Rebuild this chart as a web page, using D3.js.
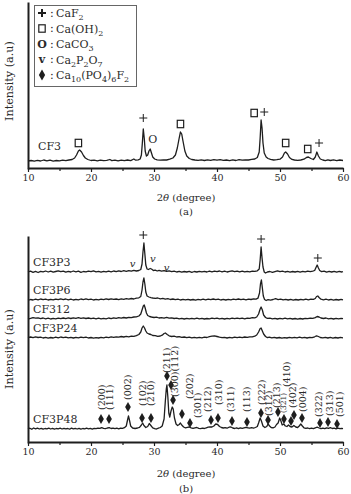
<!DOCTYPE html>
<html><head><meta charset="utf-8">
<script src="https://cdn.jsdelivr.net/npm/d3@7"></script>
<style>
body{margin:0;background:#fff}
svg{display:block}
text{font-family:"DejaVu Serif","Liberation Serif",serif;fill:#2a2a2a}
</style>
</head><body><svg id="c" width="351" height="494"></svg>
<script>
// ---------- DATA ----------
const xMajor = [10,20,30,40,50,60];
const xMinor = [15,25,35,45,55];

// Panel (a): CF3 pattern [2theta, intensity]
const cf3 = [[10,7],[10.5,7.5],[11,6.8],[11.5,7.6],[12,7],[12.5,8],[13,7.2],[13.5,7.8],[14,6.9],[14.5,7.5],[15,7.1],[15.5,7.8],[16,7.3],[16.5,8],[17,8.5],[17.4,10],[17.7,13],[18,17],[18.2,18],[18.5,16],[18.8,12.5],[19.1,10],[19.5,8.5],[20,7.5],[20.5,7.8],[21,7.2],[21.5,7.8],[22,7.3],[22.5,7.6],[23,8.5],[23.3,7.4],[23.8,7.8],[24.3,7.2],[24.8,7.9],[25.3,7.3],[25.8,8],[26.3,7.4],[26.8,9],[27.1,7.8],[27.5,8.2],[27.8,9],[28,13],[28.15,25],[28.3,39],[28.45,30],[28.6,17],[28.8,12],[29.0,13],[29.2,17],[29.4,19],[29.6,15],[29.8,11],[30.1,9],[30.5,8.2],[31,7.8],[31.5,8.2],[32,8],[32.5,8.8],[33,10],[33.4,13],[33.7,20],[34,30],[34.2,36],[34.4,34],[34.6,27],[34.9,17],[35.2,12],[35.6,9.5],[36,8.5],[36.5,8],[37,7.6],[37.5,8.1],[38,7.5],[38.5,8.2],[39,7.6],[39.5,8.4],[40,7.8],[40.5,8.3],[41,7.6],[41.5,8],[42,7.4],[42.5,8.1],[43,7.5],[43.5,8.4],[44,7.8],[44.5,8.2],[45,8],[45.5,8.6],[46,9],[46.4,10.5],[46.7,16],[46.85,30],[47,48],[47.15,40],[47.3,25],[47.5,15],[47.8,11],[48.1,9.5],[48.5,8.6],[49,8],[49.5,8.3],[50,8.8],[50.4,11],[50.7,15],[50.9,16],[51.2,14],[51.5,10.5],[51.9,8.6],[52.3,8],[52.8,7.6],[53.3,8],[53.8,8.8],[54.2,10.5],[54.5,11],[54.9,9.5],[55.3,8.5],[55.6,11],[55.85,16],[56.1,12],[56.4,9],[56.8,8],[57.2,7.4],[57.6,8.2],[58,7.5],[58.5,8.1],[59,7.4],[59.5,8],[60,7.5]];

// Panel (b): stacked patterns, relative intensity
const cf3p3 = [[10,0],[10.4,0.8],[10.8,-0.3],[11.2,0.6],[11.6,-0.5],[12,0.7],[12.4,0.2],[12.8,1],[13.2,0],[13.6,0.8],[14,-0.2],[14.4,0.5],[14.8,1.2],[15.2,0.3],[15.6,0.9],[16,-0.2],[16.4,0.6],[16.8,0],[17.2,1],[17.6,0.2],[18,0.8],[18.4,-0.3],[18.8,0.5],[19.2,0.1],[19.6,0.9],[20,0.3],[20.4,1.1],[20.8,0.2],[21.2,0.7],[21.6,-0.2],[22,0.6],[22.4,0.1],[22.8,0.9],[23.2,0.2],[23.6,1],[24,0.4],[24.4,1.2],[24.8,0.5],[25.2,1.3],[25.6,0.6],[26,1.4],[26.4,0.8],[26.8,1.6],[27.2,1],[27.6,1.5],[27.9,2.5],[28.1,8],[28.25,20],[28.4,29],[28.55,18],[28.7,7],[28.9,3],[29.1,2.5],[29.4,3.5],[29.6,3],[29.9,1.5],[30.2,1.8],[30.5,1],[30.8,1.6],[31.2,0.8],[31.6,1.4],[32,0.6],[32.4,1.2],[32.8,0.3],[33.2,0.8],[33.6,0],[34,0.7],[34.4,-0.2],[34.8,0.5],[35.2,0],[35.6,0.6],[36,-0.3],[36.4,0.5],[36.8,0],[37.2,0.7],[37.6,0.1],[38,0.6],[38.4,0],[38.8,0.8],[39.2,0.2],[39.6,0.9],[40,0.3],[40.4,1],[40.8,0.2],[41.2,0.8],[41.6,0],[42,0.6],[42.4,1.2],[42.8,0.4],[43.2,0.9],[43.6,0.2],[44,0.8],[44.4,0.1],[44.8,0.7],[45.2,0.2],[45.6,0.9],[46,0.6],[46.4,1.2],[46.7,3],[46.85,12],[47,25],[47.15,14],[47.3,5],[47.5,0],[47.7,-1],[48,0],[48.4,0.5],[48.8,-0.4],[49.2,0.4],[49.6,1.2],[50,0.3],[50.4,0.8],[50.8,0],[51.2,0.6],[51.6,-0.2],[52,0.5],[52.4,0],[52.8,0.7],[53.2,-0.1],[53.6,0.6],[54,0.1],[54.4,0.8],[54.8,0.3],[55.2,0.9],[55.5,1.5],[55.75,5],[55.9,7],[56.1,4],[56.3,1.5],[56.6,0.4],[57,0.9],[57.4,-0.2],[57.8,0.6],[58.2,0],[58.6,0.7],[59,-0.1],[59.4,0.6],[59.8,0],[60,0.4]];

const cf3p6 = [[10,-0.3],[10.4,0.5],[10.8,0],[11.2,0.8],[11.6,0.2],[12,1],[12.4,0.3],[12.8,0.9],[13.2,0],[13.6,0.6],[14,0.1],[14.4,0.9],[14.8,0.3],[15.2,1.1],[15.6,0.4],[16,1],[16.4,0.2],[16.8,0.8],[17.2,0],[17.6,0.7],[18,0.1],[18.4,1],[18.8,0.4],[19.2,1.1],[19.6,0.3],[20,0.8],[20.4,0],[20.8,0.6],[21.2,0.2],[21.6,0.9],[22,0.3],[22.4,1.1],[22.8,0.5],[23.2,1.2],[23.6,0.6],[24,1],[24.4,0.4],[24.8,1.1],[25.2,0.6],[25.6,1.3],[26,0.8],[26.4,1.5],[26.8,1],[27.2,1.8],[27.6,2.2],[27.9,3.5],[28.1,10],[28.25,18],[28.4,22],[28.55,16],[28.7,8],[28.9,4],[29.2,3],[29.5,2.4],[29.8,2],[30.2,1.6],[30.6,2],[31,1.2],[31.4,1.6],[31.8,0.8],[32.2,1.3],[32.6,0.5],[33,1],[33.4,0.3],[33.8,0.8],[34.2,0],[34.6,0.6],[35,0.1],[35.4,0.7],[35.8,0],[36.2,0.5],[36.6,-0.2],[37,0.6],[37.4,0.1],[37.8,0.8],[38.2,0.2],[38.6,0.9],[39,0.3],[39.4,1],[39.8,0.4],[40.2,0.8],[40.6,0],[41,0.6],[41.4,0],[41.8,0.7],[42.2,0.2],[42.6,0.9],[43,0.4],[43.4,1],[43.8,0.3],[44.2,0.8],[44.6,0.2],[45,0.9],[45.4,0.5],[45.8,1.2],[46.2,0.9],[46.5,1.8],[46.75,7],[46.9,16],[47.05,20],[47.2,12],[47.35,4],[47.55,0.5],[47.8,-0.5],[48.1,0.3],[48.5,-0.2],[48.9,0.5],[49.3,1.3],[49.7,0.4],[50.1,0.9],[50.5,0.1],[50.9,0.7],[51.3,0],[51.7,0.6],[52.1,-0.1],[52.5,0.5],[52.9,0],[53.3,0.7],[53.7,0.1],[54.1,0.8],[54.5,0.2],[54.9,0.9],[55.3,0.6],[55.6,1.5],[55.8,3.5],[56,4],[56.2,2.5],[56.5,0.8],[56.9,0.2],[57.3,0.8],[57.7,0],[58.1,0.6],[58.5,-0.1],[58.9,0.5],[59.3,0],[59.7,0.6],[60,0.2]];

const cf312 = [[10,0],[10.4,0.6],[10.8,1.4],[11.2,0.8],[11.6,1.2],[12,0.4],[12.4,1],[12.8,0.2],[13.2,0.8],[13.6,0],[14,0.6],[14.4,0.1],[14.8,0.9],[15.2,0.3],[15.6,1],[16,0.4],[16.4,1.1],[16.8,0.5],[17.2,1.2],[17.6,0.6],[18,1.3],[18.4,0.7],[18.8,1.2],[19.2,0.5],[19.6,1],[20,0.3],[20.4,0.9],[20.8,0.2],[21.2,0.8],[21.6,0.1],[22,0.7],[22.4,0.2],[22.8,1],[23.2,0.4],[23.6,1.2],[24,0.6],[24.4,1.3],[24.8,0.8],[25.2,1.5],[25.6,1],[26,1.7],[26.4,1.3],[26.8,2],[27.2,2.2],[27.6,3],[27.9,5],[28.1,9],[28.3,13],[28.45,14],[28.6,11],[28.8,6],[29,3.5],[29.3,2.5],[29.6,2],[30,1.5],[30.4,1.8],[30.8,1],[31.2,1.4],[31.6,0.8],[32,1.6],[32.4,0.8],[32.8,1.2],[33.2,0.5],[33.6,0.9],[34,0.2],[34.4,0.7],[34.8,0],[35.2,0.6],[35.6,0.1],[36,0.7],[36.4,0.2],[36.8,0.8],[37.2,0.1],[37.6,0.6],[38,0],[38.4,0.5],[38.8,0.1],[39.2,0.8],[39.6,0.3],[40,0.9],[40.4,0.2],[40.8,0.7],[41.2,0],[41.6,0.6],[42,0.1],[42.4,0.8],[42.8,0.3],[43.2,0.9],[43.6,0.3],[44,0.8],[44.4,0.2],[44.8,0.9],[45.2,0.6],[45.6,1.3],[46,1.2],[46.3,2],[46.6,5],[46.85,10],[47,12],[47.2,9],[47.4,4],[47.7,1.5],[48,0.6],[48.4,0.9],[48.8,0.2],[49.2,0.7],[49.6,0],[50,0.6],[50.4,0.1],[50.8,0.8],[51.2,0.2],[51.6,0.7],[52,0],[52.4,0.5],[52.8,-0.1],[53.2,0.5],[53.6,0],[54,0.7],[54.4,0.3],[54.8,0.9],[55.2,0.6],[55.6,1.4],[55.9,2.5],[56.2,2],[56.5,1],[56.9,0.5],[57.3,1],[57.7,0.2],[58.1,0.7],[58.5,0],[58.9,0.6],[59.3,0.1],[59.7,0.7],[60,0.3]];

const cf3p24 = [[10,0.3],[10.4,1],[10.8,0.4],[11.2,1.2],[11.6,0.5],[12,0.9],[12.4,0],[12.8,0.6],[13.2,-0.2],[13.6,0.5],[14,0],[14.4,0.8],[14.8,0.2],[15.2,1],[15.6,0.4],[16,0.9],[16.4,0.1],[16.8,0.6],[17.2,0],[17.6,0.7],[18,0.2],[18.4,0.9],[18.8,0.3],[19.2,0.8],[19.6,0],[20,0.5],[20.4,-0.2],[20.8,0.4],[21.2,0],[21.6,0.7],[22,0.2],[22.4,0.9],[22.8,0.4],[23.2,1.1],[23.6,0.6],[24,1.2],[24.4,0.8],[24.8,1.5],[25.2,1],[25.6,1.6],[26,1.2],[26.4,1.9],[26.8,1.6],[27.2,2.4],[27.6,3.5],[27.9,6],[28.1,10],[28.3,12],[28.5,10],[28.7,7],[28.9,5],[29.2,4],[29.5,3.5],[29.8,2.5],[30.2,2.4],[30.6,1.6],[31,2],[31.3,2.8],[31.6,4.5],[31.8,5],[32.1,3.5],[32.4,2.2],[32.8,1.5],[33.2,1.8],[33.6,1],[34,1.4],[34.4,0.6],[34.8,1],[35.2,0.3],[35.6,0.8],[36,0.2],[36.4,0.7],[36.8,0.1],[37.2,0.6],[37.6,0.2],[38,0.8],[38.4,0.5],[38.8,1.3],[39.2,1.8],[39.6,2.2],[40,1.5],[40.4,0.8],[40.8,0.3],[41.2,0.7],[41.6,0],[42,0.6],[42.4,0.1],[42.8,0.8],[43.2,0.3],[43.6,0.9],[44,0.4],[44.4,1],[44.8,0.6],[45.2,1.2],[45.6,1.1],[46,1.8],[46.3,3],[46.6,6],[46.85,9.5],[47,10],[47.2,7],[47.4,4],[47.7,1.5],[48,0.4],[48.3,0.9],[48.7,0.1],[49.1,0.7],[49.5,0],[49.9,0.5],[50.3,-0.2],[50.7,0.4],[51.1,0],[51.5,0.6],[51.9,0.1],[52.3,0.7],[52.7,0.2],[53.1,0.8],[53.5,0.2],[53.9,0.7],[54.3,0],[54.7,0.6],[55.1,0.3],[55.5,1.2],[55.8,2.2],[56.1,1.5],[56.4,0.5],[56.8,0.1],[57.2,0.7],[57.6,0],[58,0.6],[58.4,-0.1],[58.8,0.5],[59.2,0],[59.6,0.6],[60,0.2]];

const cf3p48 = [[10,0],[10.3,0.8],[10.6,-0.3],[10.9,1],[11.2,0.2],[11.5,0.9],[11.8,0],[12.1,0.7],[12.4,-0.2],[12.7,0.5],[13,0.1],[13.3,0.8],[13.6,0],[13.9,0.6],[14.2,-0.1],[14.5,0.5],[14.8,0.2],[15.1,0.8],[15.4,0],[15.7,0.7],[16,0.2],[16.3,0.5],[16.6,-0.2],[16.9,0.9],[17.2,0.1],[17.5,0.6],[17.8,0],[18.1,0.7],[18.4,-0.1],[18.7,0.5],[19,0.1],[19.3,0.8],[19.6,0.2],[19.9,0.6],[20.2,-0.1],[20.5,0.7],[20.8,0.3],[21.1,0.9],[21.4,0.6],[21.7,1.4],[22,0.7],[22.3,0.4],[22.6,1],[22.9,1.3],[23.2,0.5],[23.5,0.9],[23.8,0.3],[24.1,0.8],[24.4,0.2],[24.7,0.9],[25,0.6],[25.3,1.3],[25.6,3],[25.8,9],[25.95,13],[26.1,9],[26.3,3],[26.6,1],[27,0.5],[27.4,1],[27.7,1.6],[28,4],[28.2,6],[28.4,3.5],[28.7,1.5],[29,2.5],[29.25,5.5],[29.5,3.5],[29.8,1.2],[30.1,0.3],[30.4,0],[30.7,0.8],[31,1.5],[31.3,3],[31.6,10],[31.8,28],[31.95,40],[32.05,44],[32.2,32],[32.35,16],[32.5,12],[32.7,18],[32.9,22],[33.05,20],[33.25,11],[33.5,5],[33.75,3.5],[34,4.5],[34.2,6],[34.4,4],[34.7,2],[35,1.2],[35.3,1.6],[35.6,2],[35.9,1.2],[36.2,0.6],[36.5,1.2],[36.8,1.5],[37.1,0.6],[37.4,0.3],[37.7,0.9],[38,0.5],[38.3,1.2],[38.6,1.8],[38.9,2.2],[39.2,2],[39.5,3],[39.8,5],[40.1,4.5],[40.4,2.5],[40.7,1.5],[41,1],[41.3,1.3],[41.6,0.8],[41.9,1.8],[42.2,2],[42.5,1],[42.8,0.5],[43.1,1.1],[43.4,0.4],[43.7,1.2],[44,0.6],[44.3,1.1],[44.6,1.6],[44.9,1.2],[45.2,0.8],[45.5,1.3],[45.8,0.9],[46.1,1.5],[46.4,2.5],[46.6,6],[46.85,11],[47.05,8],[47.3,3],[47.6,1.5],[47.9,2.5],[48.1,5],[48.35,3],[48.6,1.5],[48.9,1.2],[49.2,2],[49.45,4.5],[49.7,6],[49.95,11],[50.15,8],[50.35,4],[50.6,5],[50.85,3],[51.1,2.5],[51.35,4],[51.6,2.5],[51.9,2],[52.2,3.5],[52.5,2],[52.8,1.5],[53.05,3],[53.3,5],[53.55,3],[53.8,1.2],[54.1,0.6],[54.4,1],[54.7,0.3],[55,0.8],[55.3,0.4],[55.6,1.2],[55.9,1.8],[56.2,1],[56.5,0.4],[56.8,0.9],[57.1,0.3],[57.4,1.2],[57.7,0.6],[58,1.3],[58.3,0.5],[58.6,0.9],[58.9,0.2],[59.2,0.8],[59.5,0.3],[59.8,0.7],[60,0.4]];

const bNames = ["CF3P3","CF3P6","CF312","CF3P24","CF3P48"];
const bSeries = [cf3p3, cf3p6, cf312, cf3p24, cf3p48];
const bOffsets = [170, 142, 123, 104, 13];

// Phase markers
const aMarkType  = ["sq","plus","O","sq","sq","plus","sq","sq","plus"];
const aMarkTheta = [18.0,28.3,29.8,34.2,45.9,47.5,50.9,54.4,56.2];
const aMarkI     = [25,50,29,44,55,56,25,19,25];

const bMarkType  = ["v","plus","v","v","plus","plus"];
const bMarkTheta = [26.6,28.3,29.8,32.0,47.0,56.0];
const bMarkI     = [179,207,184,175,203,184];

// Ca10(PO4)6F2 reflections
const dotTheta = [21.59,22.86,25.87,28.10,29.52,32.06,32.70,33.02,34.44,35.71,39.05,40.16,42.38,44.76,46.98,48.10,49.68,50.63,51.75,52.22,53.49,56.35,57.62,59.05];
const dotI     = [23,23,35,24,24,66,57,42,28,19,22,24,21,20,29,22,30,23,21,27,24,19,20,18];
const hklLabels = ["(200)","(111)","(002)","(102)","(210)","(211)","(300)(112)","(202)","(301)","(212)","(310)","(311)","(113)","(222)","(312)","(213)","(321)","(410)","(402)","(004)","(322)","(313)","(501)"];
const hklTheta  = [21.59,22.86,25.87,28.1,29.52,32.06,33.3,35.56,36.98,38.57,40.16,42.2,44.76,47.14,48.1,49.37,50.48,51.11,52.06,53.65,56.19,57.78,59.37];
const hklI      = [32,32,42,36,36,69,45,43,24,30,37,30,30,37,26,34,29,55,34,30,25,26,25];

const legendSymbols = ["plus","sq","O","v","dia"];
const legendLabels = [
  [["CaF",0],["2",1]],
  [["Ca(OH)",0],["2",1]],
  [["CaCO",0],["3",1]],
  [["Ca",0],["2",1],["P",0],["2",1],["O",0],["7",1]],
  [["Ca",0],["10",1],["(PO",0],["4",1],[")",0],["6",1],["F",0],["2",1]]
];

// ---------- DRAW ----------
const svg = d3.select("#c");
const ink = "#1e1e1e";
const x  = d3.scaleLinear().domain([10,60]).range([28,343]);
const ya = d3.scaleLinear().domain([0,165]).range([168,3]);
const yb = d3.scaleLinear().domain([0,205]).range([442,237]);

function axes(y){
  const y0 = y.range()[0];
  const gx = svg.append("g").attr("transform",`translate(0,${y0})`)
    .call(d3.axisBottom(x).tickValues(xMajor).tickSize(4).tickSizeOuter(0).tickPadding(2).tickFormat(d3.format("d")));
  gx.select(".domain").attr("stroke",ink).attr("stroke-width",2);
  gx.selectAll(".tick line").attr("stroke",ink).attr("stroke-width",1.2);
  gx.selectAll(".tick text").attr("font-size",9.5).attr("font-family","DejaVu Serif").attr("fill","#2a2a2a");
  const gm = svg.append("g").attr("transform",`translate(0,${y0})`)
    .call(d3.axisBottom(x).tickValues(xMinor).tickSize(3).tickFormat(""));
  gm.select(".domain").remove();
  gm.selectAll(".tick line").attr("stroke",ink).attr("stroke-width",1.2);
  const gy = svg.append("g").attr("transform",`translate(${x.range()[0]},0)`)
    .call(d3.axisLeft(y).tickValues([]).tickSizeOuter(0));
  gy.select(".domain").attr("stroke",ink).attr("stroke-width",2).attr("stroke-linecap","square");
}
axes(ya); axes(yb);

function line(y, off){
  return d3.line().x(d=>x(d[0])).y(d=>y(d[1]+off));
}
const lineStyle = s => s.attr("fill","none").attr("stroke",ink).attr("stroke-width",1.3).attr("stroke-linejoin","round");

// panel a curve
svg.append("path").datum(cf3).attr("d", line(ya,0)).call(lineStyle);
svg.append("text").attr("x",38).attr("y",ya(cf3[0][1])-11).attr("font-size",11).text("CF3");

// panel b curves
bSeries.forEach((s,i)=>{
  svg.append("path").datum(s).attr("d", line(yb,bOffsets[i])).call(lineStyle);
  svg.append("text").attr("x",33).attr("y",yb(bOffsets[i])-6).attr("font-size",11).text(bNames[i]);
});

// markers
function marker(g, type, cx, cy, big){
  if(type==="sq"){
    g.append("rect").attr("x",cx-3.2).attr("y",cy-3.7).attr("width",6.4).attr("height",7.4)
      .attr("fill","none").attr("stroke",ink).attr("stroke-width",1.2);
  } else if(type==="plus"){
    const r = 4;
    g.append("path").attr("d",`M${cx-r},${cy}H${cx+r}M${cx},${cy-r}V${cy+r}`)
      .attr("stroke",ink).attr("stroke-width",big?2:1);
  } else if(type==="O"){
    g.append("text").attr("x",cx).attr("y",cy).attr("text-anchor","middle").attr("dominant-baseline","central")
      .attr("font-size",11).attr("font-weight",big?"bold":"normal").text("O");
  } else if(type==="v"){
    g.append("text").attr("x",cx).attr("y",cy).attr("text-anchor","middle").attr("dominant-baseline","central")
      .attr("font-size",big?11:10).attr("font-weight",big?"bold":"normal").attr("font-style",big?"normal":"italic").text("v");
  } else if(type==="dia"){
    g.append("path").attr("d", d3.symbol(d3.symbolDiamond, big?34:28)()).attr("transform",`translate(${cx},${cy})`).attr("fill",ink);
  }
}
const mg = svg.append("g");
aMarkType.forEach((t,i)=>marker(mg,t,x(aMarkTheta[i]),ya(aMarkI[i]),false));
bMarkType.forEach((t,i)=>marker(mg,t,x(bMarkTheta[i]),yb(bMarkI[i]),false));
dotTheta.forEach((t,i)=>marker(mg,"dia",x(t),yb(dotI[i]),false));

// hkl labels
hklLabels.forEach((h,i)=>{
  svg.append("text").attr("transform",`translate(${x(hklTheta[i])},${yb(hklI[i])}) rotate(-90)`)
    .attr("text-anchor","start").attr("dominant-baseline","central")
    .attr("font-family","Liberation Serif")
    .attr("font-size", h==="(321)"?7.5:9.5).text(h);
});

// legend
const lg = svg.append("g");
lg.append("rect").attr("x",34.5).attr("y",5.5).attr("width",102).attr("height",81)
  .attr("fill","#fff").attr("stroke","#666").attr("stroke-width",1);
legendLabels.forEach((segs,i)=>{
  const cy = 13 + i*15.5;
  marker(lg, legendSymbols[i], 42, cy, true);
  lg.append("text").attr("x",50).attr("y",cy).attr("dominant-baseline","central").attr("font-size",11).text(":");
  const t = lg.append("text").attr("x",56).attr("y",cy+4).attr("font-size",11);
  let down = false;
  segs.forEach(([s,sub])=>{
    const ts = t.append("tspan").text(s);
    if(sub){ ts.attr("font-size",8).attr("dy", down?0:3); down = true; }
    else { ts.attr("dy", down?-3:0); down = false; }
  });
});

// axis titles
function xTitle(yPos){
  const t = svg.append("text").attr("x",186).attr("y",yPos).attr("text-anchor","middle").attr("font-size",10);
  t.append("tspan").text("2");
  t.append("tspan").attr("font-style","italic").text("θ");
  t.append("tspan").text(" (degree)");
}
xTitle(201); xTitle(477);
svg.append("text").attr("x",186).attr("y",215).attr("text-anchor","middle").attr("font-size",10).text("(a)");
svg.append("text").attr("x",186).attr("y",492).attr("text-anchor","middle").attr("font-size",10).text("(b)");
[81,349].forEach(cy=>{
  svg.append("text").attr("transform",`translate(13,${cy}) rotate(-90)`).attr("text-anchor","middle")
    .attr("font-size",11.2).text("Intensity (a.u)");
});
</script>
</body></html>
